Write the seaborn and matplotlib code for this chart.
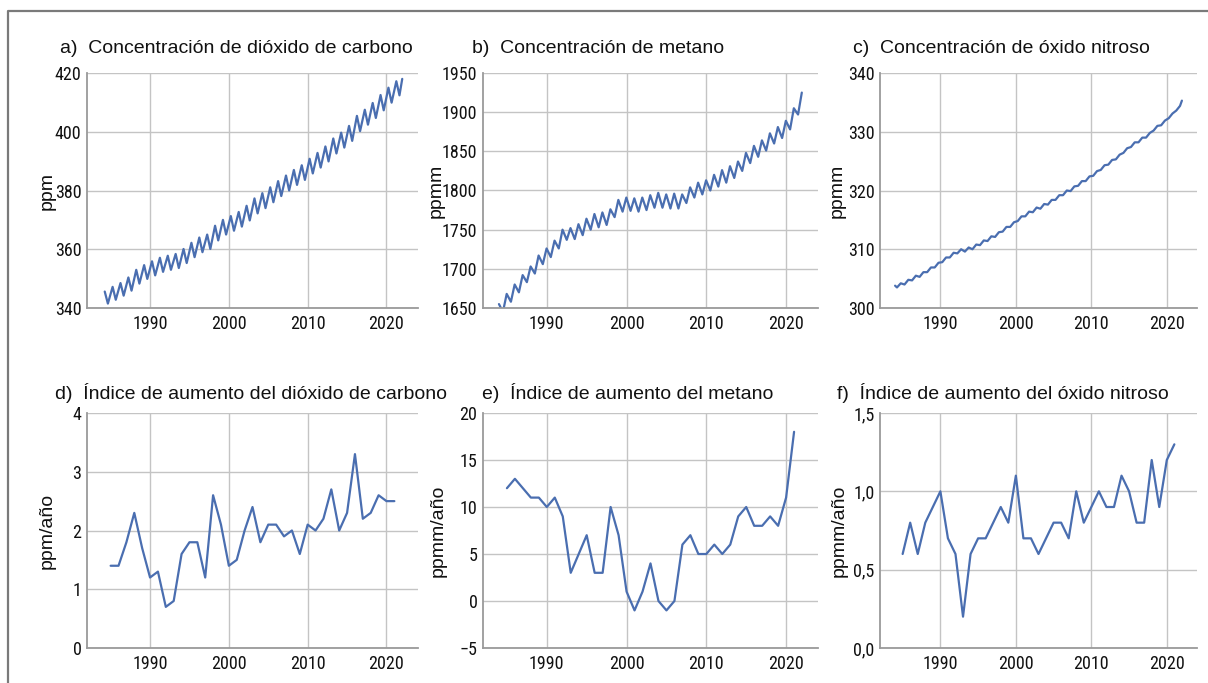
import matplotlib
matplotlib.use('Agg')
import numpy as np
import pandas as pd
import seaborn as sns
import matplotlib.pyplot as plt
from matplotlib.lines import Line2D

# --- data ------------------------------------------------------------------
years = list(range(1984, 2022))          # concentration panels, one cycle per year
rate_years = list(range(1985, 2022))     # growth-rate panels

# CO2 (ppm): seasonal maximum (spring) and minimum (autumn) of each year
co2_peak = [345.6, 347.2, 348.5, 350.4, 353.0, 354.6, 355.9, 357.1, 357.8, 358.4,
            360.1, 362.2, 364.0, 365.0, 368.0, 370.0, 371.3, 372.7, 374.8, 377.3,
            379.1, 381.1, 383.2, 385.1, 387.0, 388.6, 390.8, 392.8, 395.0, 397.7,
            399.7, 402.0, 405.4, 407.5, 409.8, 412.5, 415.0, 417.2]
co2_trough = [341.5, 342.8, 344.2, 345.9, 348.3, 349.9, 351.1, 352.3, 353.0, 353.6,
              355.3, 357.3, 359.0, 360.1, 363.0, 365.0, 366.3, 367.7, 369.8, 372.2,
              374.0, 376.0, 378.1, 380.0, 381.9, 383.6, 385.8, 387.8, 389.9, 392.6,
              394.6, 396.9, 400.2, 402.4, 404.7, 407.3, 409.9, 412.4]
co2_last = 418.0

# CH4 (ppmm): mid-year minimum and end-of-year maximum
ch4_first = 1655
ch4_trough = [1645, 1658, 1670, 1683, 1694, 1706, 1715, 1726, 1737, 1738,
              1743, 1750, 1753, 1756, 1766, 1773, 1774, 1773, 1775, 1778,
              1778, 1777, 1777, 1784, 1791, 1795, 1800, 1805, 1810, 1816,
              1825, 1835, 1843, 1851, 1860, 1867, 1878, 1897]
ch4_peak = [1668, 1680, 1692, 1703, 1717, 1726, 1736, 1750, 1752, 1757,
            1764, 1770, 1772, 1776, 1788, 1791, 1790, 1791, 1794, 1797,
            1795, 1796, 1795, 1804, 1810, 1813, 1820, 1826, 1831, 1837,
            1848, 1857, 1864, 1873, 1881, 1889, 1905, 1925]

# N2O (ppmm): spring low and autumn high of each year
n2o_first = 303.8
n2o_low = [303.5, 304.0, 304.7, 305.3, 306.1, 306.9, 307.8, 308.6, 309.3, 309.6,
           310.0, 310.7, 311.4, 312.1, 313.0, 313.8, 314.8, 315.6, 316.3, 316.9,
           317.6, 318.4, 319.2, 319.9, 320.8, 321.6, 322.5, 323.5, 324.4, 325.3,
           326.4, 327.4, 328.2, 329.0, 330.2, 331.1, 332.3, 333.6]
n2o_high = [304.2, 304.8, 305.5, 306.1, 306.9, 307.7, 308.6, 309.4, 310.0, 310.3,
            310.8, 311.5, 312.2, 312.9, 313.8, 314.6, 315.6, 316.4, 317.1, 317.7,
            318.4, 319.2, 320.0, 320.7, 321.6, 322.4, 323.3, 324.3, 325.2, 326.1,
            327.2, 328.2, 329.0, 329.8, 331.0, 331.9, 333.1, 334.4]
n2o_last = 335.3

# annual growth rates
co2_rate = [1.4, 1.4, 1.8, 2.3, 1.7, 1.2, 1.3, 0.7, 0.8, 1.6,
            1.8, 1.8, 1.2, 2.6, 2.1, 1.4, 1.5, 2.0, 2.4, 1.8,
            2.1, 2.1, 1.9, 2.0, 1.6, 2.1, 2.0, 2.2, 2.7, 2.0,
            2.3, 3.3, 2.2, 2.3, 2.6, 2.5, 2.5]
ch4_rate = [12, 13, 12, 11, 11, 10, 11, 9, 3, 5,
            7, 3, 3, 10, 7, 1, -1, 1, 4, 0,
            -1, 0, 6, 7, 5, 5, 6, 5, 6, 9,
            10, 8, 8, 9, 8, 11, 18]
n2o_rate = [0.6, 0.8, 0.6, 0.8, 0.9, 1.0, 0.7, 0.6, 0.2, 0.6,
            0.7, 0.7, 0.8, 0.9, 0.8, 1.1, 0.7, 0.7, 0.6, 0.7,
            0.8, 0.8, 0.7, 1.0, 0.8, 0.9, 1.0, 0.9, 0.9, 1.1,
            1.0, 0.8, 0.8, 1.2, 0.9, 1.2, 1.3]

titles = ['a)  Concentración de dióxido de carbono',
          'b)  Concentración de metano',
          'c)  Concentración de óxido nitroso',
          'd)  Índice de aumento del dióxido de carbono',
          'e)  Índice de aumento del metano',
          'f)  Índice de aumento del óxido nitroso']
ylabels = ['ppm', 'ppmm', 'ppmm', 'ppm/año', 'ppmm/año', 'ppmm/año']
xticks = [1990, 2000, 2010, 2020]
yticks = [[340, 360, 380, 400, 420],
          [1650, 1700, 1750, 1800, 1850, 1900, 1950],
          [300, 310, 320, 330, 340],
          [0, 1, 2, 3, 4],
          [-5, 0, 5, 10, 15, 20],
          [0.0, 0.5, 1.0, 1.5]]
ytick_labels = [None, None, None, None,
                ['\u22125', '0', '5', '10', '15', '20'],
                ['0,0', '0,5', '1,0', '1,5']]

# --- tidy tables ---------------------------------------------------------------
yr = np.array(years, dtype=float)
co2_df = pd.DataFrame({'t': np.r_[yr + 0.25, yr + 0.65, 2022.0],
                       'v': np.r_[co2_peak, co2_trough, co2_last]}).sort_values('t')
ch4_df = pd.DataFrame({'t': np.r_[1984.0, yr + 0.5, yr + 0.97],
                       'v': np.r_[ch4_first, ch4_trough, ch4_peak]}).sort_values('t')
n2o_df = pd.DataFrame({'t': np.r_[1984.0, yr + 0.25, yr + 0.75, 2022.0],
                       'v': np.r_[n2o_first, n2o_low, n2o_high, n2o_last]}).sort_values('t')
rate_dfs = [pd.DataFrame({'t': rate_years, 'v': r}) for r in (co2_rate, ch4_rate, n2o_rate)]
frames = [co2_df, ch4_df, n2o_df] + rate_dfs

# --- figure --------------------------------------------------------------------
sns.set_theme(style='white')
plt.rcParams['font.family'] = ['Liberation Sans', 'DejaVu Sans']

W, H = 1208, 683
fig = plt.figure(figsize=(W / 100, H / 100), dpi=100)

line_col = '#4a6eb0'
grid_col = '#c4c4c4'
tick_font = ['Noto Sans Condensed', 'DejaVu Sans Condensed', 'Roboto Condensed',
             'Liberation Sans Narrow', 'Roboto']

# pixel boxes (left, right, top, bottom)
boxes = [(87, 418, 73, 308), (483, 818, 73, 308), (880, 1197, 73, 308),
         (87, 418, 413, 648), (483, 818, 413, 648), (880, 1197, 413, 648)]
title_x = [60, 472, 853, 55, 482, 837]
title_y = [53, 53, 53, 399, 399, 399]
ylab_x = [47, 436, 837, 47, 438, 839]

for i, (l, r, t, b) in enumerate(boxes):
    ax = fig.add_axes([l / W, 1 - b / H, (r - l) / W, (b - t) / H])
    sns.lineplot(data=frames[i], x='t', y='v', ax=ax, color=line_col,
                 linewidth=1.6, estimator=None, sort=True)
    ax.set_xlim(1982, 2024)
    ax.set_ylim(yticks[i][0], yticks[i][-1])
    ax.set_xticks(xticks)
    ax.set_yticks(yticks[i])
    if ytick_labels[i] is not None:
        ax.set_yticklabels(ytick_labels[i])
    ax.set_xlabel('')
    ax.set_ylabel('')
    ax.grid(True, color=grid_col, linewidth=1.0)
    ax.set_axisbelow(True)
    for s in ('top', 'right'):
        ax.spines[s].set_visible(False)
    for s in ('left', 'bottom'):
        ax.spines[s].set_color('#9a9a9a')
        ax.spines[s].set_linewidth(1.3)
    ax.tick_params(axis='both', length=0, labelsize=13, colors='#111111')
    ax.tick_params(axis='y', pad=4)
    ax.tick_params(axis='x', pad=5)
    for lab in ax.get_xticklabels() + ax.get_yticklabels():
        lab.set_family(tick_font)
        lab.set_stretch('condensed')
    fig.text(title_x[i] / W, 1 - title_y[i] / H, titles[i], fontsize=14,
             ha='left', va='baseline', color='#111111')
    fig.text(ylab_x[i] / W, 1 - ((t + b) / 2) / H, ylabels[i], fontsize=14,
             rotation=90, ha='center', va='center', color='#111111')

# frame around the graphic: top and left only
fig.add_artist(Line2D([8 / W, 8 / W, 1.0], [0.0, 1 - 11 / H, 1 - 11 / H],
                      color='#7a7a7a', linewidth=1.6, transform=fig.transFigure))

fig.savefig('out.png', dpi=100)
